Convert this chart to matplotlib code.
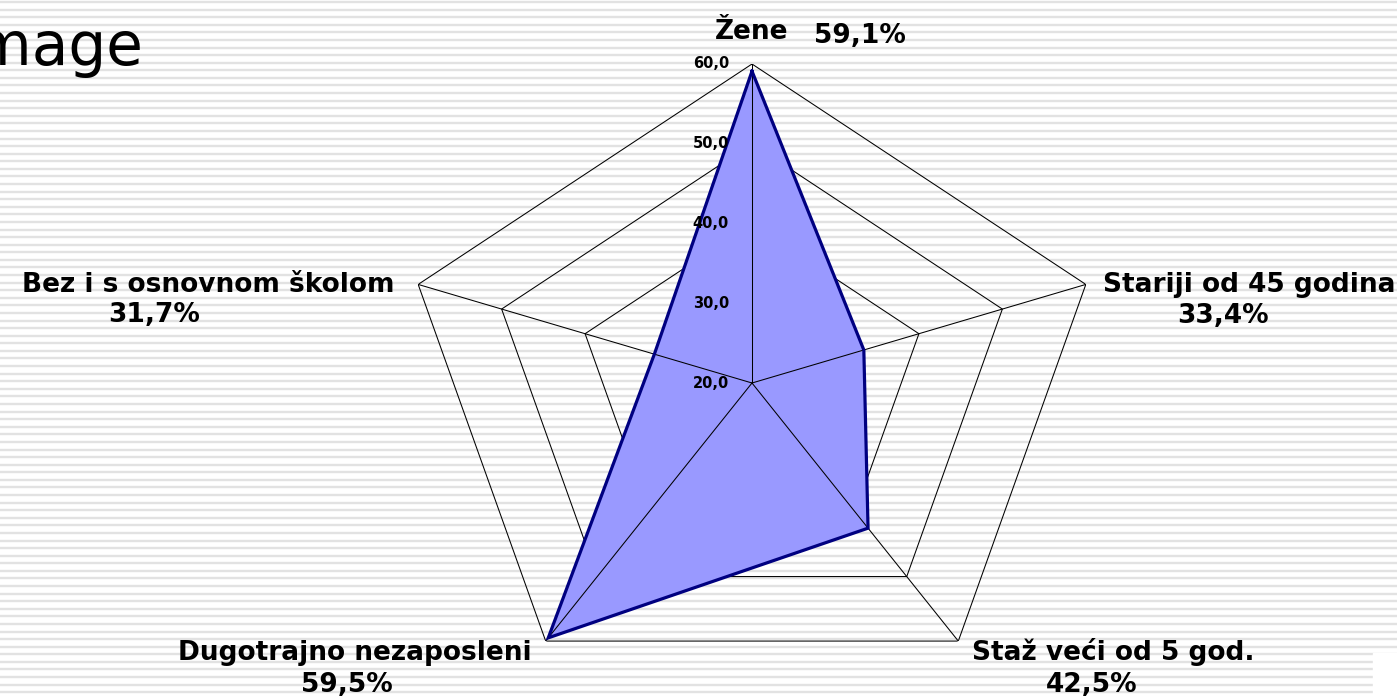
import numpy as np
import matplotlib
matplotlib.use("Agg")
import matplotlib.pyplot as plt

# datos
categorias = ["Žene", "Stariji od 45 godina", "Staž veći od 5 god.",
              "Dugotrajno nezaposleni", "Bez i s osnovnom školom"]
valores = [59.1, 33.4, 42.5, 59.5, 31.7]
etiquetas_pct = ["59,1%", "33,4%", "42,5%", "59,5%", "31,7%"]
anillos = [20, 30, 40, 50, 60]
anillos_txt = ["20,0", "30,0", "40,0", "50,0", "60,0"]

W, H = 1397, 696
fig = plt.figure(figsize=(W / 100, H / 100), dpi=100)
fig.patch.set_facecolor("white")

def px(x, y):
    return x / W, 1 - y / H

# fondo rayado
fondo = fig.add_axes([0, 0, 1, 1], zorder=0)
fondo.set_xlim(0, W)
fondo.set_ylim(H, 0)
fondo.axis("off")
ys = np.arange(2.0, H, 7.585)
fondo.hlines(ys, 0, W, color="#e2e2e2", lw=1.7)
fondo.add_patch(plt.Rectangle((1373, 653), 30, 50, color="white", zorder=3))

fig.text(*px(143, 65), "Image", ha="right", va="baseline", fontsize=43,
         family="DejaVu Sans", color="black", zorder=5)

# radar
cx, cy, rx, ry = 752, 383, 351, 319
l, b = px(cx - rx, cy + ry)
ax = fig.add_axes([l, b, 2 * rx / W, 2 * ry / H], projection="polar", zorder=2)
ax.set_aspect("auto")
ax.patch.set_alpha(0)
ax.set_theta_offset(np.pi / 2)
ax.set_theta_direction(-1)
ax.set_ylim(20, 60)
ax.grid(False)
ax.set_xticks([])
ax.set_yticks([])
ax.spines["polar"].set_visible(False)

angulos = np.linspace(0, 2 * np.pi, len(categorias), endpoint=False)
ang_c = np.append(angulos, angulos[0])
val_c = np.append(valores, valores[0])

# anillos debajo del relleno, radios encima
for r in anillos[1:]:
    ax.plot(ang_c, [r] * len(ang_c), color="black", lw=0.75, zorder=1)
ax.fill(ang_c, val_c, color="#9999ff", zorder=2)
for a in angulos:
    ax.plot([a, a], [20, 60], color="black", lw=0.75, zorder=3)
ax.plot(ang_c, val_c, color="#000080", lw=2.3, zorder=4, solid_joinstyle="miter")

for r, t in zip(anillos, anillos_txt):
    ax.annotate(t, xy=(0, r), xytext=(-23, 0), textcoords="offset pixels",
                ha="right", va="center", fontsize=10.5, fontweight="bold",
                family="DejaVu Sans", annotation_clip=False, zorder=5)

# etiquetas
pos_cat = [(752, 39), (1249, 292), (1113, 660), (355, 660), (208, 292)]
pos_pct = [(860, 43), (1223, 323), (1092, 692), (347, 692), (154, 322)]
for c, p, (x1, y1), (x2, y2) in zip(categorias, etiquetas_pct, pos_cat, pos_pct):
    fig.text(*px(x1, y1), c, ha="center", va="baseline", fontsize=19,
             fontweight="bold", family="DejaVu Sans")
    fig.text(*px(x2, y2), p, ha="center", va="baseline", fontsize=19,
             fontweight="bold", family="DejaVu Sans")

fig.savefig("out.png", dpi=100)
